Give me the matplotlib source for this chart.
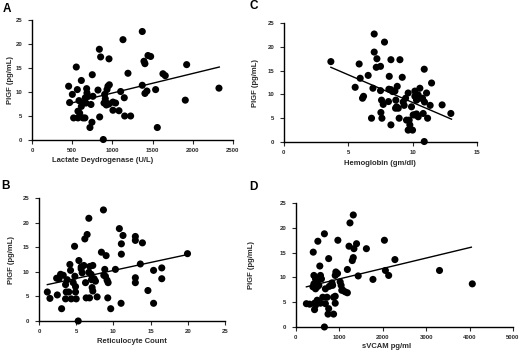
import matplotlib
matplotlib.use("Agg")
import matplotlib.pyplot as plt
import numpy as np

plt.rcParams['font.family'] = ['Liberation Sans', 'DejaVu Sans']
plt.rcParams['font.weight'] = 'bold'

# Panel A: Lactate Dehydrogenase vs PlGF
ldh_x = [456, 502, 468, 551, 564, 614, 585, 614, 572, 593, 518, 572, 634, 659,
         680, 684, 663, 697, 671, 758, 750, 746, 721, 821, 838, 854, 842, 925,
         887, 933, 945, 962, 958, 904, 912, 896, 925, 958, 1007, 1040, 1007,
         1082, 1103, 1132, 1148, 1153, 1227, 1194, 1372, 1372, 1393, 1405, 1405,
         1430, 1443, 1476, 1538, 1559, 1629, 1658, 1907, 1924, 2326, 634, 734]
ldh_y = [11.2, 9.5, 7.8, 15.2, 10.5, 12.4, 8.2, 7.0, 6.0, 5.6, 4.6, 4.6, 4.6, 4.6,
         10.7, 9.8, 8.8, 9.1, 7.7, 9.1, 13.6, 3.7, 2.6, 10.4, 18.9, 17.3, 4.8, 7.7,
         0.1, 10.5, 11.2, 11.5, 16.9, 9.5, 8.6, 7.7, 7.3, 7.5, 7.9, 7.7, 6.2,
         6.1, 10.1, 20.9, 8.8, 5.0, 5.0, 13.9, 22.6, 11.4, 16.4, 15.9, 9.7,
         10.2, 17.6, 17.4, 10.5, 2.6, 13.8, 13.4, 8.3, 15.7, 10.8, 7.7, 7.4]
ldh_fit_x = [490, 2330]
ldh_fit_y = [7.7, 15.2]

# Panel C: Hemoglobin vs PlGF
hb_x = [3.65, 5.85, 5.93, 5.54, 6.11, 6.19, 6.55, 7.02, 7.02, 7.23, 7.18, 7.51,
        7.82, 6.92, 6.81, 7.51, 7.59, 7.54, 7.62, 7.72, 8.19, 8.32, 8.16, 8.32,
        8.45, 8.63, 8.13, 8.32, 8.81, 8.70, 8.76, 8.68, 8.89, 8.96, 9.02, 9.20,
        9.27, 9.46, 9.35, 9.66, 9.53, 9.74, 9.66, 9.79, 10.0, 9.92, 10.05, 10.18,
        10.18, 10.31, 10.44, 10.18, 10.31, 10.44, 10.57, 10.57, 10.78, 10.91,
        10.83, 10.93, 11.09, 11.17, 10.91, 11.48, 11.37, 12.3, 12.98]
hb_y = [16.9, 16.4, 13.4, 11.5, 9.2, 9.6, 14.0, 22.7, 18.9, 17.5, 15.7, 15.9,
        21.0, 11.3, 5.0, 10.8, 8.8, 6.2, 5.0, 7.9, 13.8, 17.3, 11.1, 11.0,
        10.6, 10.7, 8.5, 3.6, 11.7, 8.8, 7.4, 7.1, 7.1, 5.0, 17.3, 13.6,
        8.4, 9.2, 7.7, 10.3, 4.6, 4.6, 2.5, 3.6, 2.5, 7.4, 5.7, 10.7,
        9.6, 8.8, 9.9, 5.7, 5.9, 5.3, 11.3, 9.2, 9.2, 15.3,
        6.0, 8.4, 10.3, 5.0, 0.1, 12.4, 7.7, 7.8, 6.0]
hb_fit_x = [3.65, 13.03]
hb_fit_y = [15.7, 4.8]

# Panel B: Reticulocyte count vs PlGF
ret_x = [1.12, 1.47, 2.37, 2.46, 2.68, 2.9, 3.26, 3.04, 3.57, 3.66, 3.57, 3.79,
         4.0, 4.15, 4.24, 4.33, 4.6, 4.78, 4.82, 4.91, 5.0, 4.91, 5.36, 5.27,
         5.67, 5.8, 5.67, 6.03, 6.16, 6.47, 6.7, 6.25, 6.34, 6.7, 6.79, 6.83,
         7.0, 7.05, 7.23, 7.14, 7.41, 7.23, 7.59, 7.81, 8.39, 8.66, 8.84, 8.71,
         9.02, 8.93, 9.15, 9.29, 9.24, 9.64, 10.27, 10.8, 11.07, 11.07, 11.29,
         11.03, 12.95, 12.95, 12.95, 12.95, 13.62, 13.9, 14.64, 15.4, 15.4,
         16.5, 16.5, 19.96]
ret_y = [5.9, 4.6, 8.7, 5.3, 8.6, 9.5, 9.3, 2.5, 7.4, 5.9, 4.5, 8.4,
         5.9, 11.5, 10.3, 4.5, 7.8, 15.2, 9.1, 7.0, 4.5, 5.9, 12.3, 0.0,
         11.0, 9.8, 10.6, 11.3, 16.7, 17.6, 20.9, 7.8, 4.7, 9.9, 4.7, 11.1,
         9.5, 8.4, 11.3, 6.8, 8.6, 6.1, 8.1, 4.9, 14.0, 22.6, 10.5, 9.3,
         13.3, 9.1, 8.3, 7.8, 4.7, 2.5, 10.5, 18.8, 15.7, 13.6, 17.4,
         3.6, 17.2, 16.4, 8.8, 7.8, 11.6, 15.9, 6.2, 10.3, 3.6,
         10.8, 8.6, 13.7]
ret_fit_x = [1.12, 19.9]
ret_fit_y = [7.4, 13.5]

# Panel D: sVCAM vs PlGF
vcam_x = [242, 317, 400, 430, 430, 506, 551, 415, 453, 393, 415, 468, 491, 529,
          566, 589, 514, 491, 453, 566, 619, 657, 680, 717, 755, 770, 755, 740,
          868, 831, 846, 868, 906, 906, 921, 906, 967, 1020, 1042, 1057, 1073,
          1133, 1186, 1186, 1224, 1246, 1299, 1322, 1322, 1337, 1397, 1435, 1624,
          1775, 2039, 2062, 2137, 2281, 3308, 4063, 657, 959, 453, 680]
vcam_y = [4.7, 4.6, 15.1, 4.8, 3.5, 17.3, 12.3, 10.4, 9.7, 8.1, 8.7, 9.1, 8.1, 8.4,
          10.4, 9.7, 9.5, 5.4, 4.4, 4.8, 6.0, 18.8, 7.7, 6.0, 13.8, 8.2, 3.7, 2.6,
          2.6, 8.9, 8.4, 6.0, 6.2, 4.8, 11.1, 10.4, 17.5, 9.1, 8.4, 7.4, 7.5,
          7.1, 6.9, 11.6, 16.3, 21.0, 13.4, 14.0, 22.6, 15.8, 16.8, 10.3, 15.8,
          9.6, 17.5, 11.4, 10.4, 13.6, 11.4, 8.7, 0.0, 10.8, 7.7, 4.7]
vcam_fit_x = [242, 4041]
vcam_fit_y = [8.1, 16.1]

ylabel = "PlGF (pg/mL)"
text_color = "#2a2a2a"

fig = plt.figure(figsize=(5.2, 3.53), dpi=100)

panels = [
    # letter, rect, x, y, fitx, fity, xlim, xticks, xlabel, xlabel_x, xlabel_y, ylabel_x, letter_pos
    ("A", [0.0615, 0.6034, 0.3865, 0.340], ldh_x, ldh_y, ldh_fit_x, ldh_fit_y,
     (0, 2500), [0, 500, 1000, 1500, 2000, 2500], "Lactate Deydrogenase (U/L)",
     0.35, -0.14, -0.09, (7, 9)),
    ("C", [0.546, 0.5977, 0.371, 0.337], hb_x, hb_y, hb_fit_x, hb_fit_y,
     (0, 15), [0, 5, 10, 15], "Hemoglobin (gm/dl)",
     0.5, -0.15, -0.13, (254, 6)),
    ("B", [0.075, 0.0907, 0.3577, 0.348], ret_x, ret_y, ret_fit_x, ret_fit_y,
     (0, 25), [0, 5, 10, 15, 20, 25], "Reticulocyte Count",
     0.5, -0.135, -0.13, (5, 186)),
    ("D", [0.569, 0.0737, 0.4175, 0.351], vcam_x, vcam_y, vcam_fit_x, vcam_fit_y,
     (0, 5000), [0, 1000, 2000, 3000, 4000, 5000], "sVCAM pg/ml",
     0.42, -0.13, -0.19, (253, 187)),
]

for (letter, rect, x, y, fx, fy, xlim, xticks, xlabel, xlx, xly, ylx, lpos) in panels:
    ax = fig.add_axes(rect)
    ax.scatter(x, y, s=26, color="black", edgecolors="none", clip_on=False, zorder=3)
    ax.plot(fx, fy, color="black", lw=1.0, zorder=2)
    ax.set_xlim(*xlim)
    ax.set_ylim(0, 25)
    ax.set_xticks(xticks)
    ax.set_yticks([0, 5, 10, 15, 20, 25])
    for s in ("top", "right"):
        ax.spines[s].set_visible(False)
    for s in ("left", "bottom"):
        ax.spines[s].set_linewidth(1.0)
    ax.tick_params(axis="both", direction="out", length=3, width=0.8,
                   labelsize=4.3, colors=text_color, pad=4)
    ax.tick_params(axis="x", pad=3)
    for lab in ax.get_xticklabels() + ax.get_yticklabels():
        lab.set_fontweight("bold")
    ax.set_xlabel(xlabel, fontsize=5.5, fontweight="bold", color=text_color)
    ax.xaxis.set_label_coords(xlx, xly)
    ax.xaxis.label.set_va("top")
    ax.set_ylabel(ylabel, fontsize=5.5, fontweight="bold", color=text_color)
    ax.yaxis.set_label_coords(ylx, 0.5)
    fig.text(lpos[0] / 520, 1 - lpos[1] / 353, letter, fontsize=8.5,
             fontweight="bold", color="black", ha="center", va="center")

fig.savefig("out.png", dpi=100)
